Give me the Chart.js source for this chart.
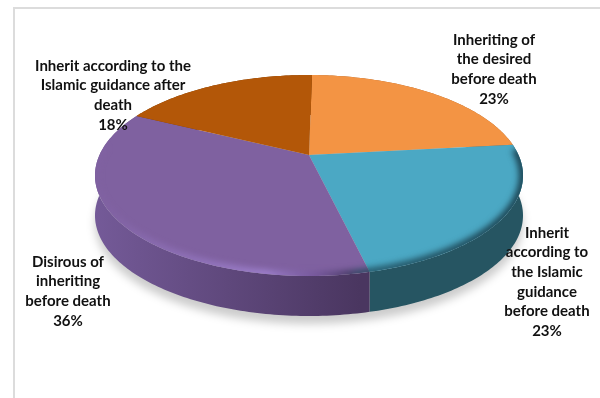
<!DOCTYPE html>
<html>
<head>
<meta charset="utf-8">
<script src="https://cdn.jsdelivr.net/npm/chart.js@4"></script>
<style>
    html, body { margin: 0; padding: 0; background: #fff; overflow: hidden; }
    #frame { position: absolute; left: 13px; top: 7px; right: 0; bottom: 0; border-top: 2px solid #dcdcdc; border-left: 2px solid #dcdcdc; }
    #myChart { position: absolute; left: 0; top: 0; }
</style>
</head>
<body>
<div id="frame"></div>
<canvas id="myChart" width="600" height="398"></canvas>
<script>
var categories = [
    ['Inheriting of', 'the desired', 'before death'],
    ['Inherit', 'according to', 'the Islamic', 'guidance', 'before death'],
    ['Disirous of', 'inheriting', 'before death'],
    ['Inherit according to the', 'Islamic guidance after', 'death']
];
var shares = [23, 23, 36, 18];
var topColors = ['#F39444', '#4BA8C4', '#7F61A0', '#B35708'];
var wallColors = [
    ['#a8612a', '#a8612a'],
    ['#214c5a', '#265562'],
    ['#745a98', '#4a3660'],
    ['#7a3c06', '#7a3c06']
];

// centre x and first line y of each label block
var labelSpots = [[494, 40], [547, 233], [68, 262], [113, 66]];
var lineHeight = 19.6;

// tilted disc: the hub sits above the middle of the ellipse
var hub = { x: 309, y: 155 };
var spreadX = 209.5, spreadY = 96.3, tilt = 0.204;
var wallDepth = 40;

function project(angle, drop) {
    var u = Math.cos(angle), v = Math.sin(angle);
    var w = 1 - tilt * v;
    return { x: hub.x + spreadX * u / w, y: hub.y + spreadY * v / w + (drop || 0) };
}

function rimPath(ctx, from, to, drop) {
    var steps = Math.max(2, Math.ceil(Math.abs(to - from) * 60));
    for (var i = 0; i <= steps; i++) {
        var p = project(from + (to - from) * i / steps, drop);
        ctx.lineTo(p.x, p.y);
    }
}

function wholeDisc(ctx, drop) {
    ctx.beginPath();
    rimPath(ctx, 0, Math.PI * 2, drop);
    ctx.closePath();
}

var tiltedPie = {
    id: 'tiltedPie',
    beforeDatasetDraw: function(chart, args) {
        var ctx = chart.ctx;
        var arcs = args.meta.data;

        // soft shadow under the disc
        ctx.save();
        ctx.filter = 'blur(4px)';
        ctx.fillStyle = 'rgba(0,0,0,0.2)';
        wholeDisc(ctx, wallDepth + 8);
        ctx.fill();
        ctx.restore();

        arcs.forEach(function(arc, i) {
            var g = ctx.createLinearGradient(95, 0, 360, 0);
            g.addColorStop(0, wallColors[i][0]);
            g.addColorStop(1, wallColors[i][1]);
            ctx.fillStyle = g;
            ctx.beginPath();
            rimPath(ctx, arc.startAngle, arc.endAngle, 0);
            rimPath(ctx, arc.endAngle, arc.startAngle, wallDepth);
            ctx.closePath();
            ctx.fill();
        });

        arcs.forEach(function(arc) {
            ctx.fillStyle = arc.options.backgroundColor;
            ctx.beginPath();
            ctx.moveTo(hub.x, hub.y);
            rimPath(ctx, arc.startAngle, arc.endAngle, 0);
            ctx.closePath();
            ctx.fill();
        });

        // bevel along the near edge of the top face
        ctx.save();
        wholeDisc(ctx, 0);
        ctx.clip();
        var edge = ctx.createLinearGradient(95, 0, 523, 0);
        edge.addColorStop(0, 'rgba(135,105,175,0.1)');
        edge.addColorStop(0.12, 'rgba(150,120,195,0.45)');
        edge.addColorStop(0.4, 'rgba(165,135,215,0.85)');
        edge.addColorStop(0.52, 'rgba(110,80,150,0.7)');
        edge.addColorStop(0.59, 'rgba(60,50,90,0.8)');
        edge.addColorStop(0.62, 'rgba(28,70,85,0.8)');
        edge.addColorStop(1, 'rgba(22,55,68,0.95)');
        ctx.filter = 'blur(3px)';
        ctx.strokeStyle = edge;
        ctx.lineWidth = 8;
        ctx.beginPath();
        rimPath(ctx, -0.06, Math.PI + 0.1, 0);
        ctx.stroke();
        ctx.restore();

        return false;
    },
    afterDatasetsDraw: function(chart) {
        var ctx = chart.ctx;
        ctx.save();
        ctx.font = 'bold 15px Lato, "Noto Sans", sans-serif';
        ctx.fillStyle = '#111';
        ctx.textAlign = 'center';
        ctx.textBaseline = 'middle';
        categories.forEach(function(lines, i) {
            var block = lines.concat(shares[i] + '%');
            block.forEach(function(line, n) {
                ctx.fillText(line, labelSpots[i][0], labelSpots[i][1] + n * lineHeight);
            });
        });
        ctx.restore();
    }
};

var myChart = new Chart(document.getElementById('myChart').getContext('2d'), {
    type: 'pie',
    data: {
        labels: categories.map(function(c) { return c.join(' '); }),
        datasets: [{
            data: shares,
            backgroundColor: topColors
        }]
    },
    options: {
        responsive: false,
        animation: false,
        rotation: 1,
        plugins: { legend: { display: false }, tooltip: { enabled: false } }
    },
    plugins: [tiltedPie]
});
</script>
</body>
</html>
